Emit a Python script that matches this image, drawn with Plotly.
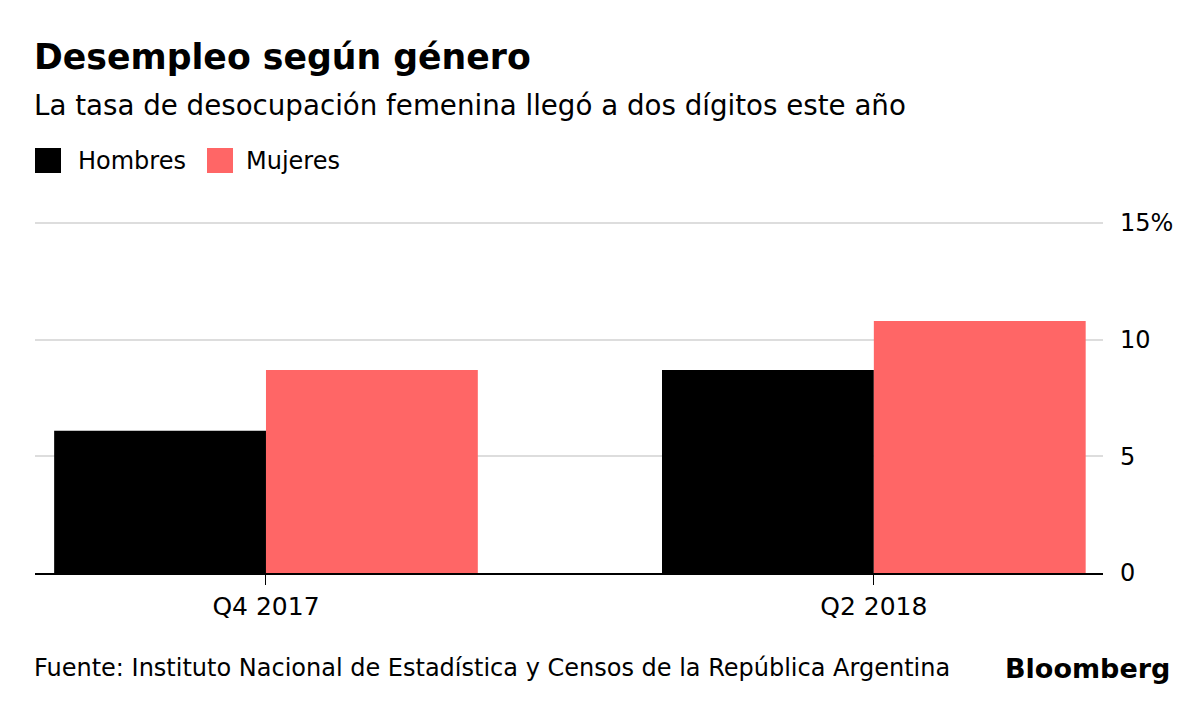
import plotly.graph_objects as go

categories = ["Q4 2017", "Q2 2018"]
hombres = [6.1, 8.7]
mujeres = [8.7, 10.8]
series_names = ["Hombres", "Mujeres"]
colors = ["#000000", "#FF6666"]
y_ticks = [0, 5, 10, 15]
y_tick_labels = ["0", "5", "10", "15%"]

FONT = "DejaVu Sans, Liberation Sans, sans-serif"
TOP = 221  # pixel row of plot top

fig = go.Figure()
for name, vals, col in zip(series_names, [hombres, mujeres], colors):
    fig.add_trace(go.Bar(x=categories, y=vals, name=name, marker_color=col,
                         marker_line_width=0, showlegend=False,
                         hoverinfo="x+y+name"))

fig.update_layout(
    width=1200, height=701,
    margin=dict(l=35, r=97, t=TOP, b=128),
    paper_bgcolor="white", plot_bgcolor="white",
    font=dict(family=FONT, size=22, color="#000"),
    barmode="group", bargap=0.303, bargroupgap=0,
    showlegend=False,
    xaxis=dict(type="category", range=[-0.38, 1.377], showgrid=False,
               showline=True, linecolor="#000", linewidth=2,
               ticks="outside", ticklen=10, tickwidth=1, tickcolor="#000",
               tickfont=dict(size=25, family=FONT), fixedrange=True),
    yaxis=dict(side="right", range=[0, 15.086], tickvals=y_ticks, ticktext=y_tick_labels,
               showgrid=True, gridcolor="#dddddd", gridwidth=2, zeroline=False,
               showline=False, ticks="", ticklabelstandoff=16,
               tickfont=dict(size=24, family=FONT), fixedrange=True),
)

def text_at(txt, x_rel, xanchor, center_y, size, xshift):
    fig.add_annotation(text=txt, xref="paper", yref="paper", x=x_rel, y=1,
                       xanchor=xanchor, yanchor="middle", showarrow=False,
                       font=dict(size=size, family=FONT, color="#000"),
                       xshift=xshift, yshift=TOP - center_y)

text_at("<b>Desempleo según género</b>", 0, "left", 57, 34.7, -3)
text_at("La tasa de desocupación femenina llegó a dos dígitos este año", 0, "left", 105, 27.7, -3)

# legend
legend_items = [(series_names[0], colors[0], 35, 78), (series_names[1], colors[1], 207, 246)]
for name, col, sq_x, tx_x in legend_items:
    fig.add_shape(type="rect", xref="paper", yref="paper", xsizemode="pixel",
                  ysizemode="pixel", xanchor=0, yanchor=1,
                  x0=sq_x - 35, x1=sq_x - 35 + 26, y0=TOP - 173, y1=TOP - 148,
                  fillcolor=col, line_width=0)
    text_at(name, 0, "left", 161, 24, tx_x - 35 - 2)

text_at("Fuente: Instituto Nacional de Estadística y Censos de la República Argentina",
        0, "left", 668, 24, -3)
text_at("<b>Bloomberg</b>", 1, "right", 668, 27, 97 - 28)

fig.write_html("out.html", config={"displayModeBar": False},
               post_script="document.body.style.margin='0';")
